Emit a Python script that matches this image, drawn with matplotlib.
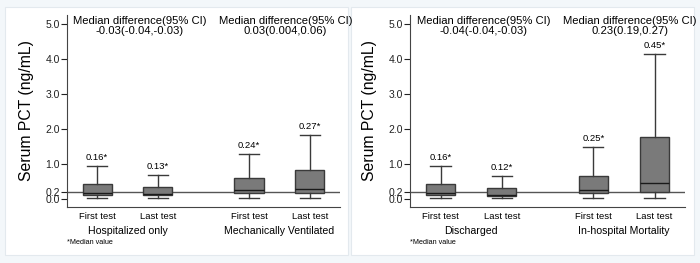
import matplotlib.pyplot as plt
from matplotlib.patches import Rectangle

plt.rcParams['font.family'] = ['Liberation Sans', 'DejaVu Sans']

# ---- data ----
tests = ["First test", "Last test", "First test", "Last test"]
positions = [1, 2, 3.5, 4.5]

groups_left = ["Hospitalized only", "Mechanically Ventilated"]
diff_left = ["-0.03(-0.04,-0.03)", "0.03(0.004,0.06)"]
low_left = [0.03, 0.02, 0.03, 0.02]
q1_left = [0.10, 0.10, 0.15, 0.15]
med_left = [0.16, 0.13, 0.24, 0.27]
q3_left = [0.42, 0.33, 0.58, 0.82]
high_left = [0.93, 0.68, 1.27, 1.82]

groups_right = ["Discharged", "In-hospital Mortality"]
diff_right = ["-0.04(-0.04,-0.03)", "0.23(0.19,0.27)"]
low_right = [0.02, 0.02, 0.03, 0.03]
q1_right = [0.10, 0.08, 0.15, 0.18]
med_right = [0.16, 0.12, 0.25, 0.45]
q3_right = [0.42, 0.30, 0.66, 1.76]
high_right = [0.93, 0.66, 1.47, 4.16]

yticks = [0.0, 0.2, 1.0, 2.0, 3.0, 4.0, 5.0]
ytick_labels = ["0.0", "0.2", "1.0", "2.0", "3.0", "4.0", "5.0"]

fig = plt.figure(figsize=(7, 2.63), dpi=100)
fig.patch.set_facecolor("#f3f7fa")

# white panels behind the axes
for x0 in [0.007, 0.502]:
    fig.patches.append(Rectangle((x0, 0.03), 0.49, 0.945, transform=fig.transFigure,
                                 facecolor="white", edgecolor="#e3e9ee", lw=0.8,
                                 zorder=-10))


def draw_panel(ax, groups, diffs, low, q1, med, q3, high):
    ax.set_facecolor("none")
    stats = []
    for i in range(len(tests)):
        stats.append(dict(whislo=low[i], q1=q1[i], med=med[i], q3=q3[i],
                          whishi=high[i], fliers=[]))
    ax.bxp(stats, positions=positions, widths=0.48, patch_artist=True,
           showfliers=False, capwidths=0.33,
           boxprops=dict(facecolor="#7a7a7a", edgecolor="#3a3a3a", lw=1.0),
           medianprops=dict(color="#1a1a1a", lw=1.0),
           whiskerprops=dict(color="#3a3a3a", lw=1.0),
           capprops=dict(color="#3a3a3a", lw=1.0))
    ax.axhline(0.2, color="#555555", lw=1.0, zorder=0.5)
    ax.set_xlim(0.5, 5.0)
    ax.set_ylim(-0.23, 5.27)
    ax.set_yticks(yticks)
    ax.set_yticklabels(ytick_labels, fontsize=7.5)
    ax.tick_params(axis="y", length=4, width=0.8, pad=1, colors="#222222")
    ax.set_xticks([])
    for s in ["top", "right"]:
        ax.spines[s].set_visible(False)
    for s in ["left", "bottom"]:
        ax.spines[s].set_color("#444444")
        ax.spines[s].set_linewidth(0.8)
    ax.set_ylabel("Serum PCT (ng/mL)", fontsize=11.3, labelpad=8)

    for i in range(len(tests)):
        ax.annotate(f"{med[i]:.2f}*", (positions[i], high[i]), xytext=(0, 3),
                    textcoords="offset points", ha="center", va="bottom", fontsize=6.8)
        ax.text(positions[i], -0.052, tests[i], transform=ax.get_xaxis_transform(),
                ha="center", va="center", fontsize=6.8)

    for g, cx, tx, d in zip(groups, [1.5, 4.0], [1.7, 4.1], diffs):
        ax.text(cx, -0.127, g, transform=ax.get_xaxis_transform(),
                ha="center", va="center", fontsize=7.6)
        ax.text(tx, 0.995, "Median difference(95% CI)\n" + d,
                transform=ax.get_xaxis_transform(), ha="center", va="top",
                fontsize=8.1, linespacing=0.95)
    ax.text(0.0, -0.188, "*Median value", transform=ax.transAxes,
            ha="left", va="center", fontsize=5.2)


ax1 = fig.add_axes([0.0953, 0.214, 0.3906, 0.729])
draw_panel(ax1, groups_left, diff_left, low_left, q1_left, med_left, q3_left, high_left)

ax2 = fig.add_axes([0.5857, 0.214, 0.393, 0.729])
draw_panel(ax2, groups_right, diff_right, low_right, q1_right, med_right, q3_right, high_right)

fig.savefig("out.png", dpi=100, facecolor=fig.get_facecolor())
